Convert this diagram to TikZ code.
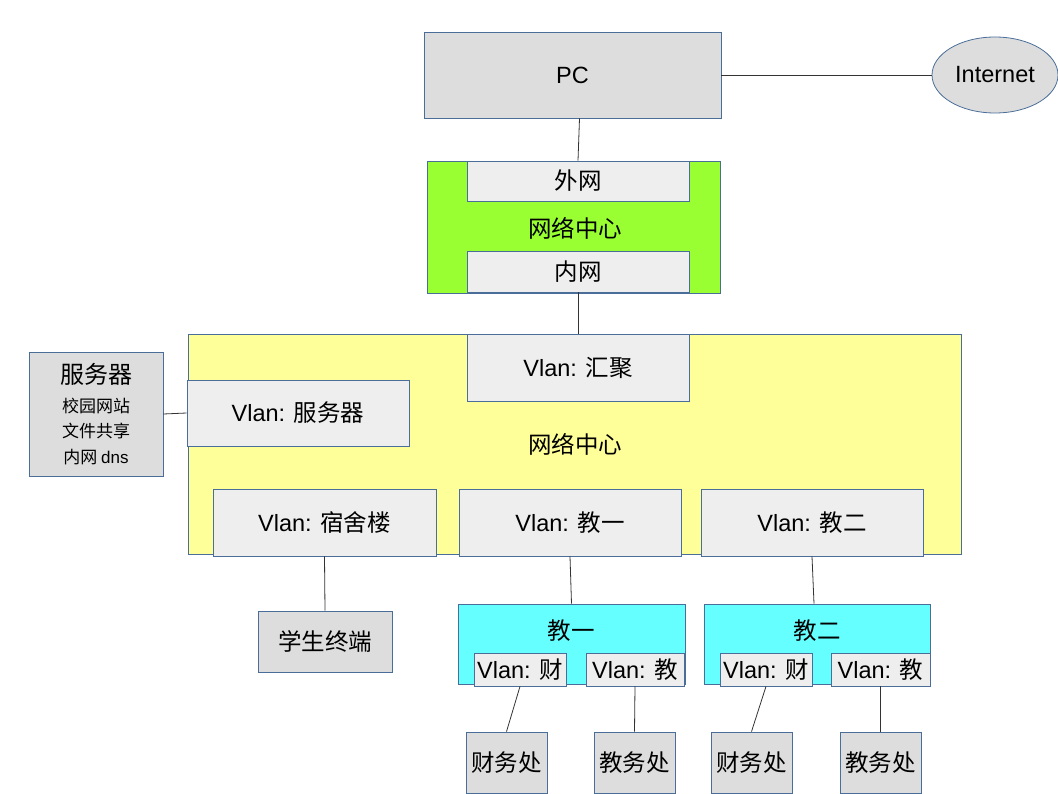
\documentclass[tikz,border=0pt]{standalone}
\usepackage{fontspec}
\setmainfont{Liberation Sans}
\newfontfamily\cjk{Noto Sans CJK SC}
\usetikzlibrary{shapes.geometric}
\definecolor{edgeblue}{HTML}{4A6E99}
\definecolor{boxgray}{HTML}{DDDDDD}
\definecolor{vlangray}{HTML}{EEEEEE}
\definecolor{coregreen}{HTML}{99FF33}
\definecolor{campusyellow}{HTML}{FFFF99}
\definecolor{teachcyan}{HTML}{66FFFF}
\tikzset{
  box/.style={draw=edgeblue, line width=0.8pt, inner sep=0pt, align=center,
    font=\fontsize{23.5}{28}\selectfont},
  host/.style={box, fill=boxgray},
  vlan/.style={box, fill=vlangray},
  cjklabel/.style={font=\cjk\fontsize{23.5}{28}\selectfont},
  link/.style={draw=black!80, line width=0.8pt},
}

\begin{document}
\begin{tikzpicture}[x=1pt, y=-1pt]
\useasboundingbox (0,0) rectangle (1058,794);
% top: PC and Internet
\node [host, minimum width=297pt, minimum height=86pt] (pc) at (572.5, 75) {PC};
\node [host, ellipse, minimum width=126pt, minimum height=76pt] (inet) at (995, 75) {Internet};
% network centre, outer side
\node [box, fill=coregreen, minimum width=293pt, minimum height=132pt] (core) at (573.5, 227) {};
\node [vlan, minimum width=222pt, minimum height=40pt] (wan) at (578, 181) {\cjk 外网};
\node [cjklabel] (corelbl) at (575, 228) {网络中心};
\node [vlan, minimum width=222pt, minimum height=41pt] (lan) at (578, 271.5) {\cjk 内网};
% network centre, inner side
\node [box, fill=campusyellow, minimum width=773pt, minimum height=220pt] (campus) at (574.5, 444) {};
\node [vlan, minimum width=222pt, minimum height=67pt] (agg) at (578, 367.5) {Vlan: {\cjk 汇聚}};
\node [vlan, minimum width=222pt, minimum height=66pt] (vsrv) at (298, 413) {Vlan: {\cjk 服务器}};
\node [cjklabel] (campuslbl) at (575, 444) {网络中心};
\node [vlan, minimum width=223pt, minimum height=67pt] (vdorm) at (324.5, 522.5) {Vlan: {\cjk 宿舍楼}};
\node [vlan, minimum width=222pt, minimum height=67pt] (vt1) at (570, 522.5) {Vlan: {\cjk 教一}};
\node [vlan, minimum width=222pt, minimum height=67pt] (vt2) at (812, 522.5) {Vlan: {\cjk 教二}};
% servers
\node [host, minimum width=134pt, minimum height=124pt, font=\cjk\fontsize{17}{25.5}\selectfont] (srv) at (96, 414)
  {{\fontsize{24}{28}\selectfont 服务器}\\[3pt] 校园网站\\ 文件共享\\ 内网 {\rmfamily dns}};
% dorm
\node [host, minimum width=134pt, minimum height=61pt] (stu) at (325, 641.5) {\cjk 学生终端};
% teaching buildings
\node [box, fill=teachcyan, minimum width=227pt, minimum height=80pt] (t1) at (571.5, 644) {};
\node [cjklabel] (t1lbl) at (571, 631) {教一};
\node [vlan, minimum width=92pt, minimum height=33pt] (t1f) at (520, 669.5) {Vlan: {\cjk 财}};
\node [vlan, minimum width=98pt, minimum height=33pt] (t1j) at (635, 669.5) {Vlan: {\cjk 教}};
\node [box, fill=teachcyan, minimum width=226pt, minimum height=80pt] (t2) at (817, 644) {};
\node [cjklabel] (t2lbl) at (817, 631) {教二};
\node [vlan, minimum width=92pt, minimum height=33pt] (t2f) at (766, 669.5) {Vlan: {\cjk 财}};
\node [vlan, minimum width=99pt, minimum height=33pt] (t2j) at (880.5, 669.5) {Vlan: {\cjk 教}};
% offices
\node [host, minimum width=81pt, minimum height=61pt] (f1) at (506.5, 762.5) {\cjk 财务处};
\node [host, minimum width=81pt, minimum height=61pt] (j1) at (634.5, 762.5) {\cjk 教务处};
\node [host, minimum width=81pt, minimum height=61pt] (f2) at (751.5, 762.5) {\cjk 财务处};
\node [host, minimum width=81pt, minimum height=61pt] (j2) at (880.5, 762.5) {\cjk 教务处};
% links
\draw [link] (pc.east) -- (inet.west);
\draw [link] ([xshift=7pt]pc.south) -- (wan.north);
\draw [link] (lan.south) -- (agg.north);
\draw [link] (srv.east) -- (vsrv.west);
\draw [link] (vdorm.south) -- (stu.north);
\draw [link] (vt1.south) -- (t1.north);
\draw [link] (vt2.south) -- ([xshift=-3pt]t2.north);
\draw [link] (t1f.south) -- (f1.north);
\draw [link] (t1j.south) -- (j1.north);
\draw [link] (t2f.south) -- (f2.north);
\draw [link] (t2j.south) -- (j2.north);
\end{tikzpicture}
\end{document}
